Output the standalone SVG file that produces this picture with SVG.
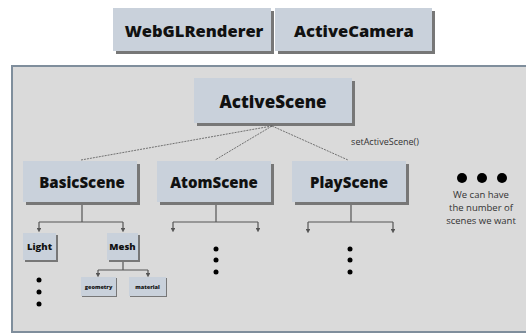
<svg xmlns="http://www.w3.org/2000/svg" width="526" height="336" viewBox="0 0 526 336">
<style>
.box{fill:#c9d1db}
.sh{fill:#777777}
.t{font-family:"Open Sans","DejaVu Sans",sans-serif;font-weight:800;fill:#111;text-anchor:middle}
.n{font-family:"Open Sans","DejaVu Sans",sans-serif;fill:#333;text-anchor:middle}
.c{fill:none;stroke:#555;stroke-width:1.2}
.d{fill:none;stroke:#555;stroke-width:0.8;stroke-dasharray:2 1}
.dot{fill:#000}
</style>
<defs>
<marker id="ah" viewBox="0 0 4 4" refX="2" refY="2" markerWidth="4" markerHeight="4" orient="auto">
<path d="M0,0 L4,2 L0,4 z" fill="#555"/>
</marker>
</defs>
<rect x="0" y="0" width="526" height="336" fill="#ffffff"/>
<rect x="12" y="66" width="520" height="266" fill="#dadada" stroke="#7f8e9c" stroke-width="2"/>

<g id="webglrenderer">
<rect class="sh" x="116" y="11" width="158" height="43"/>
<rect class="box" x="113" y="8" width="158" height="43"/>
<text class="t" x="194" y="37" font-size="16.5">WebGLRenderer</text>
</g>
<g id="activecamera">
<rect class="sh" x="278" y="11" width="157" height="43"/>
<rect class="box" x="275" y="8" width="157" height="43"/>
<text class="t" x="354" y="37" font-size="16.5">ActiveCamera</text>
</g>
<g id="activescene">
<rect class="sh" x="197" y="81" width="158" height="45"/>
<rect class="box" x="194" y="78" width="158" height="45"/>
<text class="t" x="273" y="108" font-size="17">ActiveScene</text>
</g>
<g id="basicscene">
<rect class="sh" x="26" y="164" width="114" height="41"/>
<rect class="box" x="23" y="161" width="114" height="41"/>
<text class="t" x="82" y="188" font-size="15">BasicScene</text>
</g>
<g id="atomscene">
<rect class="sh" x="160" y="164" width="114" height="41"/>
<rect class="box" x="157" y="161" width="114" height="41"/>
<text class="t" x="214" y="188" font-size="15">AtomScene</text>
</g>
<g id="playscene">
<rect class="sh" x="295" y="164" width="114" height="41"/>
<rect class="box" x="292" y="161" width="114" height="41"/>
<text class="t" x="349" y="188" font-size="15">PlayScene</text>
</g>
<g id="light">
<rect class="sh" x="25" y="235" width="33" height="27"/>
<rect class="box" x="23" y="233" width="33" height="27"/>
<text class="t" x="39.5" y="250" font-size="9.5">Light</text>
</g>
<g id="mesh">
<rect class="sh" x="109" y="235" width="31" height="27"/>
<rect class="box" x="107" y="233" width="31" height="27"/>
<text class="t" x="122.5" y="250" font-size="9.5">Mesh</text>
</g>
<g id="geometry">
<rect class="sh" x="82" y="278" width="35" height="19"/>
<rect class="box" x="81" y="277" width="35" height="19"/>
<text class="t" x="98.5" y="289" font-size="5.5">geometry</text>
</g>
<g id="material">
<rect class="sh" x="130" y="278" width="37" height="19"/>
<rect class="box" x="129" y="277" width="37" height="19"/>
<text class="t" x="147.5" y="289" font-size="5.5">material</text>
</g>

<g id="connectors">
<path class="d" d="M272,126 L81,160"/>
<path class="d" d="M272,126 L215,160"/>
<path class="d" d="M272,126 L348,160"/>
<path class="c" d="M82,205 V222 M39,222 H123"/>
<path class="c" d="M39,222 V230" marker-end="url(#ah)"/>
<path class="c" d="M123,222 V230" marker-end="url(#ah)"/>
<path class="c" d="M123,262 V270 M98,270 H148"/>
<path class="c" d="M98,270 V275" marker-end="url(#ah)"/>
<path class="c" d="M148,270 V275" marker-end="url(#ah)"/>
<path class="c" d="M216,205 V222 M173,222 H258"/>
<path class="c" d="M173,222 V230" marker-end="url(#ah)"/>
<path class="c" d="M258,222 V230" marker-end="url(#ah)"/>
<path class="c" d="M351,205 V222 M308,222 H393"/>
<path class="c" d="M308,222 V231" marker-end="url(#ah)"/>
<path class="c" d="M393,222 V231" marker-end="url(#ah)"/>
</g>

<text class="n" x="385" y="145" font-size="9">setActiveScene()</text>

<g id="dots">
<circle class="dot" cx="39" cy="280" r="2.5"/>
<circle class="dot" cx="39" cy="292" r="2.5"/>
<circle class="dot" cx="39" cy="304" r="2.5"/>
<circle class="dot" cx="216" cy="249" r="2.5"/>
<circle class="dot" cx="216" cy="260" r="2.5"/>
<circle class="dot" cx="216" cy="272" r="2.5"/>
<circle class="dot" cx="350" cy="249" r="2.5"/>
<circle class="dot" cx="350" cy="260" r="2.5"/>
<circle class="dot" cx="350" cy="272" r="2.5"/>
<circle class="dot" cx="462" cy="178" r="5"/>
<circle class="dot" cx="482" cy="178" r="5"/>
<circle class="dot" cx="502" cy="178" r="5"/>
</g>
<text class="n" font-size="9.5"><tspan x="481" y="198">We can have</tspan><tspan x="481" y="211">the number of</tspan><tspan x="481" y="224">scenes we want</tspan></text>
</svg>
